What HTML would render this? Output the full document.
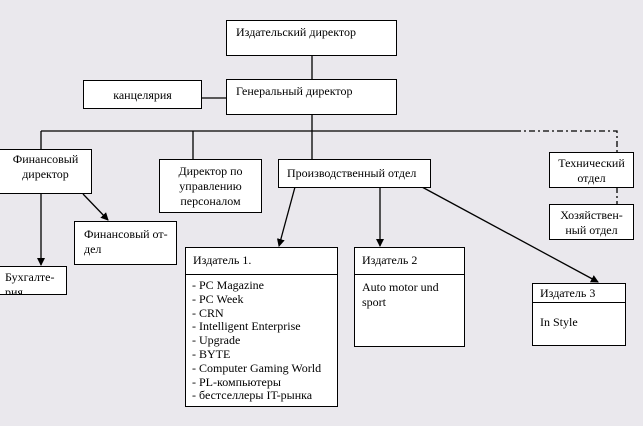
<!DOCTYPE html>
<html><head><meta charset="utf-8"><style>
html,body{margin:0;padding:0}
body{width:643px;height:426px;background:#eae8ed;position:relative;overflow:hidden;font-family:"Liberation Serif",serif;font-size:12px;color:#000}
.b{position:absolute;background:#fff;border:1.3px solid #000;box-sizing:border-box;line-height:15px;overflow:hidden}
.c{text-align:center}
svg{position:absolute;left:0;top:0}
.hd{border-bottom:1.3px solid #000;box-sizing:border-box}
</style></head><body>
<svg width="643" height="426">
<defs><marker id="a" markerWidth="8" markerHeight="8" refX="7" refY="4" orient="auto" markerUnits="userSpaceOnUse"><path d="M0,0 L8,4 L0,8 z" fill="#000"/></marker></defs>
<g stroke="#000" stroke-width="1.3" fill="none">
<line x1="312" y1="55" x2="312" y2="79"/>
<line x1="201" y1="98" x2="227" y2="98"/>
<line x1="312" y1="114" x2="312" y2="159"/>
<line x1="41" y1="131" x2="515" y2="131"/>
<polyline points="515,131 617,131 617,152" stroke-dasharray="6,3,2,3"/>
<line x1="617" y1="187" x2="617" y2="204" stroke-dasharray="6,3,2,3"/>
<line x1="41" y1="131" x2="41" y2="149"/>
<line x1="193" y1="131" x2="193" y2="159"/>
<line x1="41" y1="193" x2="41" y2="265" marker-end="url(#a)"/>
<line x1="83" y1="194" x2="108" y2="220" marker-end="url(#a)"/>
<line x1="295" y1="187" x2="279" y2="246" marker-end="url(#a)"/>
<line x1="380" y1="187" x2="380" y2="246" marker-end="url(#a)"/>
<line x1="422" y1="187" x2="598" y2="282" marker-end="url(#a)"/>
</g></svg>
<div class="b" style="left:226px;top:20px;width:171px;height:36px;padding:4px 0 0 9px">Издательский директор</div>
<div class="b" style="left:226px;top:79px;width:171px;height:36px;padding:4px 0 0 9px">Генеральный директор</div>
<div class="b c" style="left:83px;top:80px;width:119px;height:29px;padding-top:7px">канцелярия</div>
<div class="b c" style="left:-1px;top:149px;width:93px;height:45px;padding-top:2px">Финансовый<br>директор</div>
<div class="b c" style="left:159px;top:159px;width:103px;height:54px;padding-top:4px">Директор по<br>управлению<br>персоналом</div>
<div class="b" style="left:278px;top:159px;width:153px;height:29px;padding:6px 0 0 8px">Производственный отдел</div>
<div class="b c" style="left:549px;top:152px;width:85px;height:36px;padding-top:3px">Технический<br>отдел</div>
<div class="b c" style="left:549px;top:204px;width:85px;height:36px;padding-top:3px">Хозяйствен-<br>ный отдел</div>
<div class="b" style="left:74px;top:221px;width:103px;height:44px;padding:5px 0 0 9px">Финансовый от-<br>дел</div>
<div class="b" style="left:-1px;top:266px;width:68px;height:29px;padding:3px 0 0 5px">Бухгалте-<br>рия</div>
<div class="b" style="left:185px;top:247px;width:153px;height:160px">
<div class="hd" style="height:27px;padding:5px 0 0 7px">Издатель 1.</div>
<div style="padding:4px 0 0 6px;line-height:13.8px">- PC Magazine<br>- PC Week<br>- CRN<br>- Intelligent Enterprise<br>- Upgrade<br>- BYTE<br>- Computer Gaming World<br>- PL-компьютеры<br>- бестселлеры IT-рынка</div>
</div>
<div class="b" style="left:354px;top:247px;width:111px;height:100px">
<div class="hd" style="height:27px;padding:5px 0 0 7px">Издатель 2</div>
<div style="padding:5px 0 0 7px">Auto motor und<br>sport</div>
</div>
<div class="b" style="left:532px;top:283px;width:94px;height:63px">
<div class="hd" style="height:19px;padding:2px 0 0 7px">Издатель 3</div>
<div style="padding:12px 0 0 7px">In Style</div>
</div>
</body></html>
